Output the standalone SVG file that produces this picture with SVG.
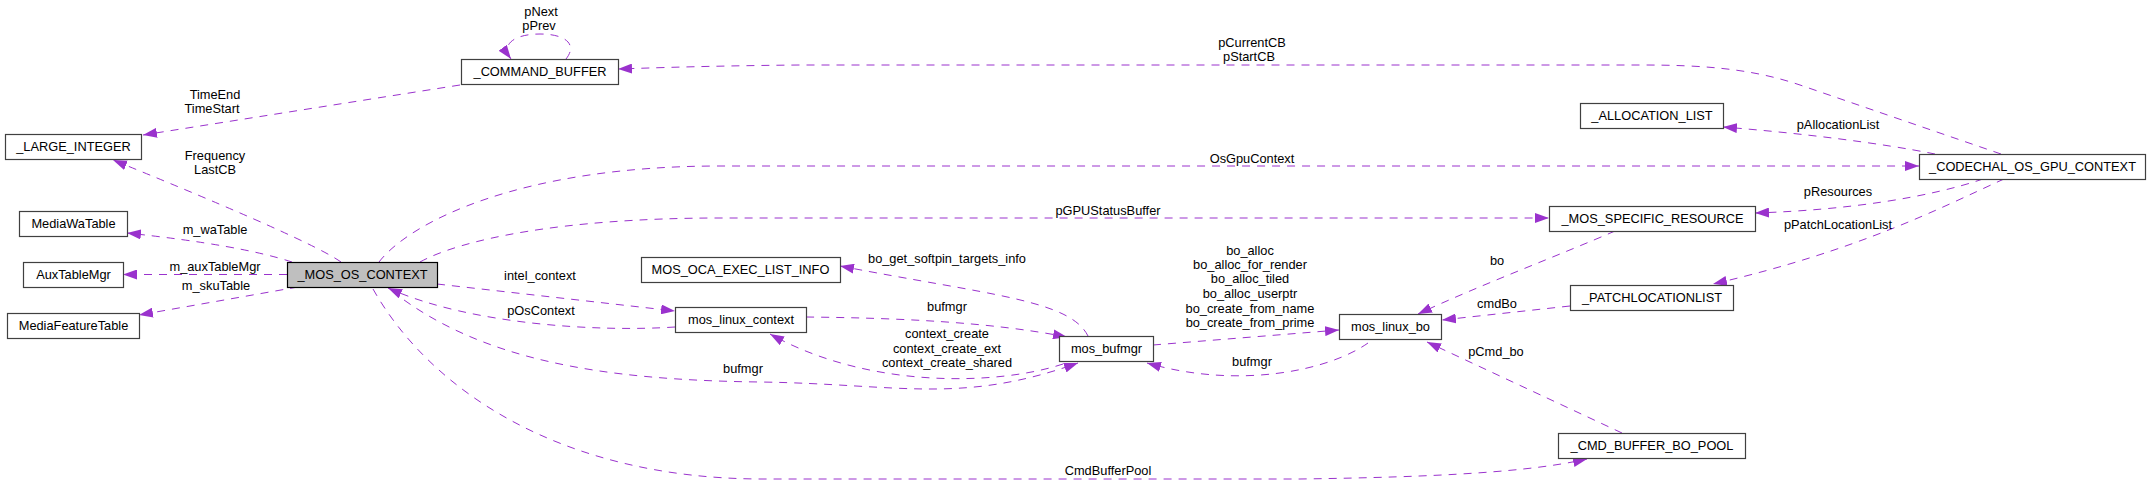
<svg xmlns="http://www.w3.org/2000/svg" width="2151" height="484" viewBox="0 0 2151 484">
<style>
text{font-family:"Liberation Sans",Arial,Helvetica,sans-serif;font-size:12.8px;fill:#000;text-anchor:middle}
.node rect{fill:#fff;stroke:#404040;stroke-width:1.2}
.root rect{fill:#bfbfbf;stroke:#000}
.edge{fill:none;stroke:#9a32cd;stroke-width:1;stroke-dasharray:8,7;marker-end:url(#ah)}
</style>
<defs>
<marker id="ah" markerUnits="userSpaceOnUse" viewBox="0 0 14 10" refX="14" refY="5" markerWidth="14" markerHeight="10" orient="auto">
<path d="M0,0 L14,5 L0,10 z" fill="#9a32cd"/>
</marker>
</defs>
<rect width="2151" height="484" fill="#fff"/>
<g id="connectors">
<path class="edge" d="M460,85 L143,135"/>
<path class="edge" d="M566,59 C578,44 565,34 540,34 C515,34 500,44 511,59"/>
<path class="edge" d="M341,262 Q310,240 113,160"/>
<path class="edge" d="M292,262 Q240,245 127,233"/>
<path class="edge" d="M287,274.5 L123,274.5"/>
<path class="edge" d="M298,287 L139,315"/>
<path class="edge" d="M379,262 C410,222 520,166 720,166 L1919,166"/>
<path class="edge" d="M420,262 C460,240 560,218 720,218 L1549,218"/>
<path class="edge" d="M437,284 L675,311"/>
<path class="edge" d="M675,327 C600,332 470,325 388,288"/>
<path class="edge" d="M392,291 C480,360 600,380 760,382 C900,384 960,405 1078,363"/>
<path class="edge" d="M373,289 C430,390 560,478 760,479 L1300,479 C1440,477 1530,472 1587,459"/>
<path class="edge" d="M1088,336 C1070,300 990,295 840,266"/>
<path class="edge" d="M806,317 C900,318 990,322 1067,337"/>
<path class="edge" d="M1063,364 C1000,385 870,390 770,334"/>
<path class="edge" d="M1153,345 L1339,330"/>
<path class="edge" d="M1368,343 C1330,370 1240,390 1147,363"/>
<path class="edge" d="M2001,154 L1800,85 C1750,68 1700,65 1640,65 L800,65 C700,66 650,68 618,69"/>
<path class="edge" d="M1935,154 C1880,143 1800,133 1723,127"/>
<path class="edge" d="M1983,179 C1930,197 1850,210 1755,213"/>
<path class="edge" d="M2004,179 C1940,208 1860,250 1713,284"/>
<path class="edge" d="M1615,231 C1560,255 1480,285 1418,314"/>
<path class="edge" d="M1570,306 L1442,320"/>
<path class="edge" d="M1622,433 L1427,342"/>
<text x="215" y="99">TimeEnd</text>
<text x="212" y="113">TimeStart</text>
<text x="541" y="16">pNext</text>
<text x="539" y="30">pPrev</text>
<text x="215" y="160">Frequency</text>
<text x="215" y="174">LastCB</text>
<text x="215" y="234">m_waTable</text>
<text x="215" y="271">m_auxTableMgr</text>
<text x="216" y="290">m_skuTable</text>
<text x="1252" y="163">OsGpuContext</text>
<text x="1108" y="215">pGPUStatusBuffer</text>
<text x="540" y="280">intel_context</text>
<text x="541" y="315">pOsContext</text>
<text x="743" y="373">bufmgr</text>
<text x="1108" y="475">CmdBufferPool</text>
<text x="947" y="263">bo_get_softpin_targets_info</text>
<text x="947" y="311">bufmgr</text>
<text x="947" y="338">context_create</text>
<text x="947" y="353">context_create_ext</text>
<text x="947" y="367">context_create_shared</text>
<text x="1250" y="255">bo_alloc</text>
<text x="1250" y="269">bo_alloc_for_render</text>
<text x="1250" y="283">bo_alloc_tiled</text>
<text x="1250" y="298">bo_alloc_userptr</text>
<text x="1250" y="313">bo_create_from_name</text>
<text x="1250" y="327">bo_create_from_prime</text>
<text x="1252" y="366">bufmgr</text>
<text x="1252" y="47">pCurrentCB</text>
<text x="1249" y="61">pStartCB</text>
<text x="1838" y="129">pAllocationList</text>
<text x="1838" y="196">pResources</text>
<text x="1838" y="229">pPatchLocationList</text>
<text x="1497" y="265">bo</text>
<text x="1497" y="308">cmdBo</text>
<text x="1496" y="356">pCmd_bo</text>
</g>
<g id="n_large" class="node"><rect x="5.5" y="134.5" width="136" height="25"/><text x="73.5" y="151">_LARGE_INTEGER</text></g>
<g id="n_wa" class="node"><rect x="19.5" y="211.5" width="108" height="25"/><text x="73.5" y="228">MediaWaTable</text></g>
<g id="n_aux" class="node"><rect x="23.5" y="262.5" width="100" height="25"/><text x="73.5" y="279">AuxTableMgr</text></g>
<g id="n_feat" class="node"><rect x="7.5" y="313.5" width="132" height="25"/><text x="73.5" y="330">MediaFeatureTable</text></g>
<g id="n_mos" class="node root"><rect x="287.5" y="262.5" width="150" height="25"/><text x="362.5" y="279">_MOS_OS_CONTEXT</text></g>
<g id="n_cmdbuf" class="node"><rect x="461.5" y="59.5" width="157" height="25"/><text x="540" y="76">_COMMAND_BUFFER</text></g>
<g id="n_oca" class="node"><rect x="641.5" y="257.5" width="199" height="25"/><text x="740.5" y="274">MOS_OCA_EXEC_LIST_INFO</text></g>
<g id="n_mlc" class="node"><rect x="675.5" y="307.5" width="131" height="25"/><text x="741" y="324">mos_linux_context</text></g>
<g id="n_bufmgr" class="node"><rect x="1059.5" y="336.5" width="94" height="25"/><text x="1106.5" y="353">mos_bufmgr</text></g>
<g id="n_bo" class="node"><rect x="1339.5" y="314.5" width="102" height="25"/><text x="1390.5" y="331">mos_linux_bo</text></g>
<g id="n_alloc" class="node"><rect x="1580.5" y="103.5" width="143" height="25"/><text x="1652" y="120">_ALLOCATION_LIST</text></g>
<g id="n_res" class="node"><rect x="1549.5" y="206.5" width="206" height="25"/><text x="1652.5" y="223">_MOS_SPECIFIC_RESOURCE</text></g>
<g id="n_patch" class="node"><rect x="1570.5" y="285.5" width="163" height="25"/><text x="1652" y="302">_PATCHLOCATIONLIST</text></g>
<g id="n_pool" class="node"><rect x="1558.5" y="433.5" width="187" height="25"/><text x="1652" y="450">_CMD_BUFFER_BO_POOL</text></g>
<g id="n_codechal" class="node"><rect x="1919.5" y="154.5" width="226" height="25"/><text x="2032.5" y="171">_CODECHAL_OS_GPU_CONTEXT</text></g>
</svg>
